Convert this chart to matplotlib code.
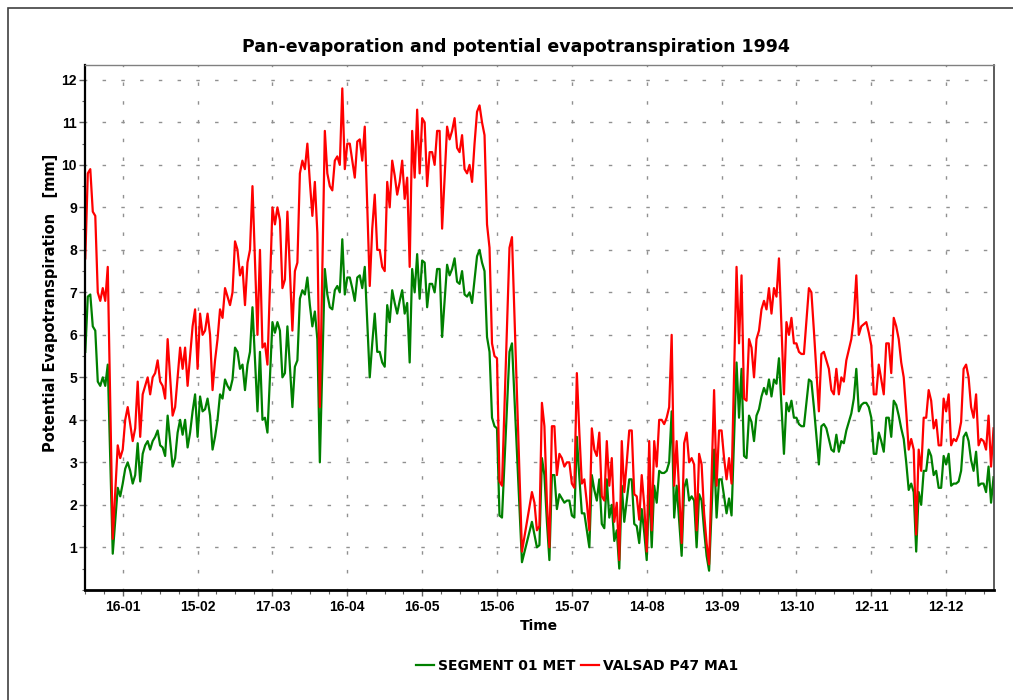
import matplotlib

matplotlib.use("Agg")
import matplotlib.pyplot as plt
from matplotlib.patches import Rectangle
from matplotlib.ticker import FixedLocator, MultipleLocator

plt.rcParams["font.family"] = ["Liberation Sans", "DejaVu Sans"]
plt.rcParams["font.weight"] = "bold"
WIDE = ["DejaVu Sans"]

# day of year (0 = 1 Jan 1994) at which each value was read
DAYS = [
    0, 1, 2, 3, 4, 5, 6, 7, 8, 9, 11, 13, 14, 15, 16, 17, 18, 19, 20,
    21, 22, 23, 24, 25, 26, 27, 28, 29, 30, 31, 32, 33, 34, 35, 36, 37, 38, 39, 40,
    41, 42, 43, 44, 45, 46, 47, 48, 49, 50, 51, 52, 53, 54, 55, 56, 57, 58, 59, 60,
    61, 62, 63, 64, 65, 66, 67, 69, 70, 71, 72, 73, 75, 76, 77, 78, 79, 80,
    81, 83, 84, 85, 86, 87, 88, 89, 90, 91, 92, 93, 94, 96, 97, 98, 99, 100,
    101, 102, 103, 104, 105, 106, 107, 108, 109, 110, 111, 112, 114, 115, 116, 117, 118, 119, 120,
    121, 122, 123, 124, 125, 126, 127, 128, 129, 130, 131, 132, 133, 134, 135, 136, 137, 138, 139, 140,
    141, 142, 143, 145, 146, 147, 148, 149, 150, 151, 152, 153, 154, 155, 156, 157, 158, 159, 160,
    161, 162, 163, 164, 165, 166, 167, 170, 171, 175, 179, 180,
    181, 182, 183, 184, 185, 186, 187, 188, 189, 190, 191, 192, 193, 194, 195, 196, 197, 198, 199, 200,
    201, 202, 203, 204, 205, 206, 207, 208, 209, 210, 211, 212, 213, 214, 215, 216, 217, 218, 219, 220,
    221, 222, 223, 224, 225, 226, 227, 228, 229, 230, 231, 232, 233, 234, 235, 236, 237, 239, 240,
    241, 242, 243, 244, 245, 246, 247, 248, 249, 250, 252, 253, 254, 255, 256, 257, 258, 259,
    261, 262, 263, 264, 265, 266, 267, 268, 269, 270, 271, 272, 273, 274, 275, 276, 277, 278, 280,
    281, 282, 283, 284, 285, 286, 287, 288, 290, 291, 292, 294, 295, 296, 297, 298, 299, 300,
    301, 302, 303, 304, 305, 306, 307, 308, 309, 310, 311, 312, 313, 314, 315, 316, 317, 318, 319, 320,
    321, 322, 323, 324, 325, 326, 327, 328, 329, 330, 331, 332, 333, 334, 335, 336, 337, 338, 339, 340,
    341, 342, 343, 344, 345, 346, 347, 348, 349, 350, 351, 352, 353, 354, 355, 356, 357, 358, 359, 360,
    361, 362, 363, 364,
]

# VALSAD P47 MA1 (red)
VALSAD = [
    7.8, 9.8, 9.9, 8.9, 8.8, 7.0, 6.8, 7.1, 6.8, 7.6, 1.2, 3.4, 3.1, 3.3, 4.0, 4.3, 3.9, 3.5, 3.8,
    4.9, 3.6, 4.6, 4.8, 5.0, 4.6, 5.0, 5.1, 5.4, 4.9, 4.8, 4.5, 5.9, 5.0, 4.1, 4.3, 5.0, 5.7, 5.2, 5.7,
    4.8, 5.5, 6.2, 6.6, 5.2, 6.5, 6.0, 6.1, 6.5, 6.0, 4.7, 5.4, 5.9, 6.6, 6.4, 7.1, 6.9, 6.7, 7.0, 8.2,
    8.0, 7.4, 7.6, 6.7, 7.7, 8.0, 9.5, 6.0, 8.0, 5.7, 5.8, 5.3, 9.0, 8.6, 9.0, 8.7, 7.1, 7.3,
    8.9, 6.1, 7.5, 7.7, 9.8, 10.1, 9.9, 10.5, 9.6, 8.8, 9.6, 8.4, 4.3, 10.8, 9.8, 9.5, 9.4, 10.1,
    10.2, 10.0, 11.8, 9.9, 10.5, 10.5, 10.1, 9.7, 10.55, 10.6, 10.1, 10.9, 7.15, 8.5, 9.3, 8.0, 8.0, 7.6, 7.5,
    9.6, 9.0, 10.1, 9.75, 9.3, 9.6, 10.1, 9.2, 9.7, 7.6, 10.8, 9.7, 11.3, 9.8, 11.1, 11.0, 9.5, 10.3, 10.3, 10.0,
    10.8, 10.8, 8.5, 10.9, 10.6, 10.8, 11.1, 10.4, 10.3, 10.7, 9.9, 9.8, 10.0, 9.6, 10.5, 11.25, 11.4, 11.0, 10.7,
    8.6, 8.05, 5.8, 5.5, 5.45, 2.55, 2.45, 8.05, 8.3, 0.9, 2.3, 2.05,
    1.4, 1.5, 4.4, 3.85, 2.05, 1.0, 3.85, 3.85, 2.7, 3.2, 3.1, 2.9, 3.0, 3.0, 2.5, 2.4, 5.1, 3.7, 2.5, 2.6,
    2.05, 1.4, 3.8, 3.3, 3.15, 3.7, 2.2, 2.1, 3.5, 2.45, 3.1, 1.6, 2.05, 0.7, 3.5, 2.3, 3.0, 3.75, 3.75, 2.25,
    2.2, 1.65, 2.7, 2.0, 0.9, 3.5, 1.4, 3.5, 2.9, 4.0, 4.0, 3.9, 4.05, 4.3, 6.0, 2.45, 3.5, 1.1, 3.45,
    3.7, 3.0, 3.1, 2.95, 1.4, 3.2, 2.95, 1.8, 1.1, 0.6, 4.7, 2.45, 3.75, 3.75, 3.1, 2.6, 3.1, 2.5,
    7.6, 5.8, 7.4, 4.5, 4.45, 5.9, 5.7, 5.0, 5.9, 6.1, 6.6, 6.8, 6.6, 7.1, 6.5, 7.1, 6.9, 7.8, 4.6,
    6.3, 6.0, 6.4, 5.8, 5.8, 5.6, 5.55, 5.55, 7.1, 7.0, 6.1, 4.2, 5.55, 5.6, 5.4, 5.2, 4.7, 4.6,
    5.2, 4.6, 5.0, 4.9, 5.4, 5.65, 5.9, 6.4, 7.4, 6.0, 6.2, 6.25, 6.3, 6.05, 5.75, 4.6, 4.6, 5.3, 4.95, 4.6,
    5.8, 5.8, 5.1, 6.4, 6.2, 5.9, 5.35, 5.0, 4.2, 3.3, 3.55, 3.3, 1.3, 3.3, 2.8, 4.05, 4.05, 4.7, 4.45, 3.8,
    4.0, 3.4, 3.4, 4.5, 4.2, 4.6, 3.4, 3.55, 3.5, 3.65, 3.95, 5.2, 5.3, 5.0, 4.3, 4.05, 4.6, 3.4, 3.55, 3.5,
    3.3, 4.1, 2.9, 3.8,
]

# SEGMENT 01 MET (green)
SEGMENT = [
    5.6, 6.9, 6.95, 6.2, 6.1, 4.9, 4.8, 5.0, 4.8, 5.3, 0.85, 2.4, 2.2, 2.5, 2.85, 3.0, 2.8, 2.5, 2.7,
    3.45, 2.55, 3.2, 3.4, 3.5, 3.3, 3.5, 3.6, 3.75, 3.4, 3.35, 3.15, 4.1, 3.5, 2.9, 3.1, 3.7, 4.0, 3.65, 4.0,
    3.35, 3.7, 4.2, 4.6, 3.6, 4.55, 4.2, 4.25, 4.5, 4.1, 3.3, 3.6, 4.0, 4.6, 4.5, 4.95, 4.8, 4.7, 4.95, 5.7,
    5.6, 5.2, 5.3, 4.7, 5.3, 5.6, 6.65, 4.2, 5.6, 4.0, 4.05, 3.7, 6.3, 6.05, 6.3, 6.1, 5.0, 5.1,
    6.2, 4.3, 5.25, 5.4, 6.85, 7.05, 6.95, 7.35, 6.7, 6.2, 6.55, 5.9, 3.0, 7.55, 6.95, 6.65, 6.6, 7.05,
    7.15, 7.0, 8.25, 6.95, 7.35, 7.35, 7.1, 6.8, 7.35, 7.4, 7.1, 7.6, 5.0, 5.8, 6.5, 5.6, 5.6, 5.35, 5.25,
    6.7, 6.3, 7.05, 6.75, 6.5, 6.8, 7.05, 6.5, 6.75, 5.35, 7.55, 7.0, 7.9, 6.85, 7.75, 7.7, 6.65, 7.2, 7.2, 7.0,
    7.55, 7.55, 5.95, 7.65, 7.4, 7.55, 7.8, 7.25, 7.2, 7.5, 6.95, 6.9, 7.0, 6.75, 7.3, 7.85, 8.0, 7.7, 7.5,
    5.95, 5.6, 4.05, 3.85, 3.8, 1.75, 1.7, 5.6, 5.8, 0.65, 1.6, 1.3,
    1.0, 1.05, 3.1, 2.7, 1.6, 0.7, 2.7, 2.7, 1.9, 2.25, 2.15, 2.05, 2.1, 2.1, 1.75, 1.7, 3.6, 2.65, 1.8, 1.8,
    1.4, 1.0, 2.7, 2.35, 2.1, 2.6, 1.55, 1.45, 2.6, 1.7, 2.0, 1.15, 1.4, 0.5, 2.45, 1.6, 2.1, 2.6, 2.6, 1.55,
    1.5, 1.1, 1.9, 1.35, 0.7, 2.5, 1.0, 2.45, 2.05, 2.8, 2.75, 2.75, 2.8, 3.0, 4.2, 1.7, 2.45, 0.8, 2.4,
    2.6, 2.1, 2.2, 2.1, 1.0, 2.25, 2.1, 1.4, 0.8, 0.45, 3.3, 1.7, 2.6, 2.6, 2.2, 1.8, 2.15, 1.75,
    5.35, 4.05, 5.2, 3.15, 3.1, 4.1, 3.95, 3.5, 4.1, 4.25, 4.55, 4.75, 4.6, 4.95, 4.55, 4.95, 4.85, 5.45, 3.2,
    4.4, 4.2, 4.45, 4.05, 4.05, 3.9, 3.85, 3.85, 4.95, 4.9, 4.3, 2.95, 3.85, 3.9, 3.8, 3.55, 3.3, 3.25,
    3.65, 3.25, 3.5, 3.45, 3.75, 3.95, 4.15, 4.5, 5.2, 4.2, 4.35, 4.4, 4.4, 4.3, 4.05, 3.2, 3.2, 3.7, 3.5, 3.25,
    4.05, 4.05, 3.6, 4.45, 4.35, 4.1, 3.8, 3.55, 3.0, 2.35, 2.5, 2.3, 0.9, 2.3, 2.0, 2.8, 2.8, 3.3, 3.15, 2.7,
    2.8, 2.4, 2.4, 3.15, 2.95, 3.2, 2.45, 2.5, 2.5, 2.55, 2.8, 3.6, 3.7, 3.5, 3.05, 2.8, 3.25, 2.45, 2.5, 2.5,
    2.3, 2.9, 2.05, 2.65,
]

TICK_DAYS = [15, 45, 75, 105, 135, 165, 195, 225, 255, 285, 315, 345]
TICK_LABELS = ["16-01", "15-02", "17-03", "16-04", "16-05", "15-06",
               "15-07", "14-08", "13-09", "13-10", "12-11", "12-12"]
Y_TICKS = list(range(1, 13))


def main() -> None:
    fig = plt.figure(figsize=(10.13, 7.0), dpi=100)
    ax = fig.add_axes([0.0842, 0.1574, 0.8966, 0.7497])

    # outer frame (top and left edges visible)
    fig.patches.append(Rectangle((8 / 1013, -0.5), 2.0, 1.5 - 8 / 700, transform=fig.transFigure,
                                 fill=False, edgecolor="#404040", linewidth=1.2))

    ax.plot(DAYS, SEGMENT, color="#008000", linewidth=1.6, label="SEGMENT 01 MET")
    ax.plot(DAYS, VALSAD, color="#ff0000", linewidth=1.6, label="VALSAD P47 MA1")

    ax.set_xlim(0, 364)
    ax.set_ylim(0, 12.35)

    ax.xaxis.set_major_locator(FixedLocator(TICK_DAYS))
    ax.set_xticklabels(TICK_LABELS)
    ax.xaxis.set_minor_locator(MultipleLocator(7.5))
    ax.yaxis.set_major_locator(FixedLocator(Y_TICKS))
    ax.yaxis.set_minor_locator(MultipleLocator(0.5))

    ax.tick_params(axis="x", which="major", length=4, width=1, pad=3, labelsize=10, color="#606060")
    ax.tick_params(axis="x", which="minor", length=3, width=0.8, color="#606060")
    ax.tick_params(axis="y", which="major", length=4, width=1, pad=2, labelsize=10, color="#606060")
    ax.tick_params(axis="y", which="minor", length=2.5, width=0.8, color="#606060")
    for lab in ax.get_xticklabels() + ax.get_yticklabels():
        lab.set_fontweight("bold")

    dash = (1.2, (2.5, 11.0))
    ax.grid(True, which="major", axis="both", color="#909090", linewidth=1.0, linestyle=dash)

    ax.spines["left"].set_linewidth(1.6)
    ax.spines["bottom"].set_linewidth(2.0)
    ax.spines["left"].set_color("black")
    ax.spines["bottom"].set_color("black")
    ax.spines["top"].set_color("#808080")
    ax.spines["top"].set_linewidth(1.0)
    ax.spines["right"].set_color("#404040")
    ax.spines["right"].set_linewidth(1.2)

    ax.set_xlabel("Time", fontsize=10, fontweight="bold", labelpad=4, family=WIDE)
    fig.text(50 / 1013, 1 - 303 / 700, "Potential Evapotranspiration   [mm]", rotation=90,
             ha="center", va="center", fontsize=10.5, fontweight="bold", family=WIDE)
    fig.text(516 / 1013, 1 - 47 / 700, "Pan-evaporation and potential evapotranspiration 1994",
             ha="center", va="center", fontsize=12.5, fontweight="bold", family=WIDE)

    fig.legend(loc="center", bbox_to_anchor=(577 / 1013, 1 - 666 / 700), ncol=2, frameon=False,
               handlelength=1.3, handletextpad=0.3, columnspacing=0.4,
               prop={"weight": "bold", "size": 10, "family": WIDE})

    fig.savefig("out.png", dpi=100)
    plt.close(fig)


if __name__ == "__main__":
    main()
